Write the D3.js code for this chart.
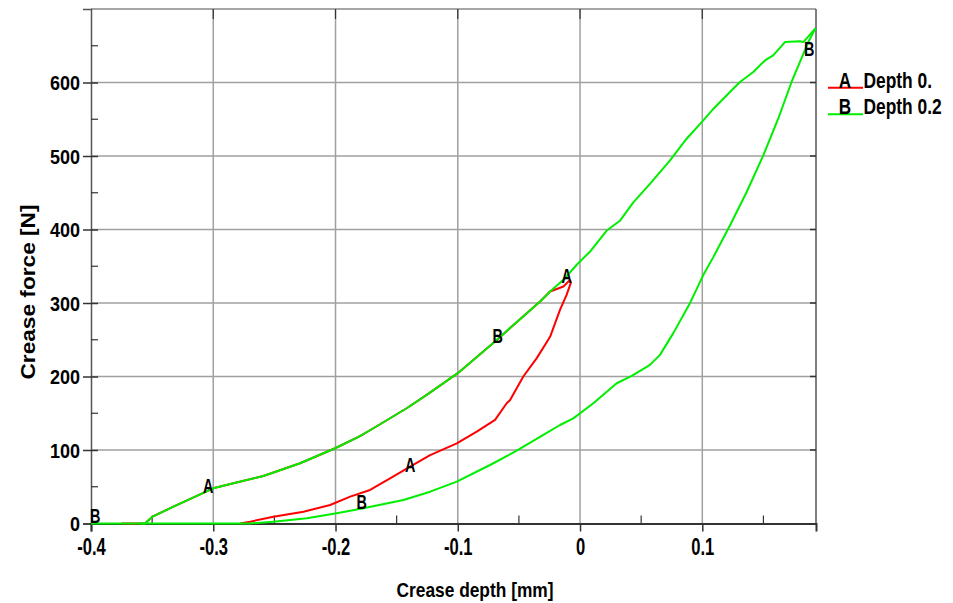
<!DOCTYPE html>
<html><head><meta charset="utf-8">
<script src="https://cdn.jsdelivr.net/npm/d3@7"></script>
<style>
body{margin:0;background:#fff}
svg{display:block}
text{font-family:"Liberation Sans",Arial,sans-serif;font-weight:bold;fill:#000}
</style>
</head><body>
<svg id="c" width="953" height="603"></svg>
<script>
// ---------- data ----------
const xTicks = [-0.4, -0.3, -0.2, -0.1, 0, 0.1];
const xTickLabels = ["-0.4", "-0.3", "-0.2", "-0.1", "0", "0.1"];
const xMinorTicks = [-0.35, -0.25, -0.15, -0.05, 0.05, 0.15];
const yTicks = [0, 100, 200, 300, 400, 500, 600];
const yTickLabels = ["0", "100", "200", "300", "400", "500", "600"];
const yMinorTicks = [50, 150, 250, 350, 450, 550, 650];

const seriesNames = ["Depth 0.", "Depth 0.2"];
const seriesLetters = ["A", "B"];
const seriesColors = ["#ff0000", "#00ee00"];

// Depth 0. (A) – loading then unloading
const depthA_load = [
  [-0.375, 0], [-0.356, 0], [-0.3497, 9.3], [-0.3326, 22.9], [-0.3, 47.9], [-0.2835, 54.7],
  [-0.259, 64.7], [-0.229, 82], [-0.2003, 102.4], [-0.18, 119], [-0.169, 129.6],
  [-0.1418, 156.8], [-0.1254, 175], [-0.1, 204.5], [-0.0681, 249.8], [-0.0327, 302],
  [-0.0245, 315.6], [-0.0136, 322.4], [-0.0082, 331.5]
];
const depthA_unload = [
  [-0.0082, 331.5], [-0.0076, 327], [-0.011, 311], [-0.0164, 290.7], [-0.0245, 254],
  [-0.0354, 225], [-0.0464, 200], [-0.0572, 168], [-0.06, 163.6], [-0.0695, 141],
  [-0.0845, 125], [-0.1008, 109], [-0.1226, 93], [-0.139, 77.4], [-0.1554, 61.5],
  [-0.1717, 45.6], [-0.188, 36.5], [-0.2044, 25.2], [-0.2262, 16], [-0.2508, 9.3],
  [-0.2698, 2.5], [-0.278, 0]
];
// Depth 0.2 (B) – loading then unloading
const depthB_load = [
  [-0.4, 0], [-0.356, 0], [-0.3497, 9.3], [-0.3326, 22.9], [-0.3, 47.9], [-0.2835, 54.7],
  [-0.259, 64.7], [-0.229, 82], [-0.2003, 102.4], [-0.18, 119], [-0.169, 129.6],
  [-0.1418, 156.8], [-0.1254, 175], [-0.1, 204.5], [-0.0681, 249.8], [-0.0327, 302],
  [-0.0245, 315.6], [-0.0136, 331.5], [-0.0027, 352], [0.0082, 370], [0.0218, 398.6],
  [0.0327, 412], [0.0436, 437], [0.0572, 462], [0.0736, 494], [0.0872, 523.5],
  [0.1008, 548.4], [0.109, 564], [0.1226, 587], [0.1308, 600.7], [0.1417, 614.3],
  [0.1513, 630], [0.158, 637], [0.1676, 655], [0.1799, 656], [0.1826, 655], [0.1927, 674]
];
const depthB_unload = [
  [0.1927, 674], [0.1867, 655], [0.1799, 628], [0.173, 600.7], [0.1621, 550.7],
  [0.1499, 500.8], [0.1363, 451], [0.1226, 405.4], [0.109, 362.4], [0.1008, 338],
  [0.0899, 299.8], [0.0763, 259], [0.0654, 229.4], [0.0572, 215.8], [0.0423, 200.8],
  [0.03, 190.8], [0.0109, 163.6], [-0.0055, 143], [-0.0164, 134], [-0.03, 120.5],
  [-0.0518, 99], [-0.0736, 79.6], [-0.1008, 57], [-0.1226, 43.3], [-0.1445, 32],
  [-0.1772, 20.7], [-0.199, 13.9], [-0.2235, 7], [-0.2508, 2.5], [-0.27, 0], [-0.36, 0]
];

// curve marker letters (data coordinates of letter baseline centre)
const markerLetters = ["B", "A", "A", "B", "B", "A", "B"];
const markerX = [-0.3966, -0.3042, -0.139, -0.1785, -0.0673, -0.0109, 0.1875];
const markerY = [0.7, 41.9, 70.5, 19.7, 245.6, 327.2, 635.6];

// ---------- layout ----------
const L = 91, R = 816, T = 9, B = 523.5;
const svg = d3.select("#c");
const x = d3.scaleLinear().domain([-0.4, 0.193]).range([L, R]);
const y = d3.scaleLinear().domain([0, 700]).range([B, T]);

function squeeze(sel, f) {
  sel.each(function () {
    const w = this.getComputedTextLength();
    this.setAttribute("textLength", w * f);
    this.setAttribute("lengthAdjust", "spacingAndGlyphs");
  });
}

// grid
svg.append("g").selectAll("line").data(xTicks.slice(1)).join("line")
  .attr("x1", d => x(d)).attr("x2", d => x(d)).attr("y1", T).attr("y2", B)
  .attr("stroke", "#a0a0a0").attr("stroke-width", 1.5);
svg.append("g").selectAll("line").data(yTicks.slice(1)).join("line")
  .attr("x1", L).attr("x2", R).attr("y1", d => y(d)).attr("y2", d => y(d))
  .attr("stroke", "#a0a0a0").attr("stroke-width", 1.5);

// frame
svg.append("line").attr("x1", L).attr("x2", R).attr("y1", T).attr("y2", T).attr("stroke", "#888").attr("stroke-width", 1.5);
svg.append("line").attr("x1", R).attr("x2", R).attr("y1", T).attr("y2", B).attr("stroke", "#555").attr("stroke-width", 1.5);

// axes using d3 axis generators
const yAxis = svg.append("g").attr("transform", `translate(${L},0)`)
  .call(d3.axisLeft(y).tickValues(yTicks).tickFormat((d, i) => yTickLabels[i]).tickSize(8).tickPadding(3));
yAxis.select(".domain").attr("stroke", "#555").attr("stroke-width", 1.5);
yAxis.selectAll(".tick line").attr("stroke", "#333").attr("stroke-width", 1.5).attr("x2", -8).attr("x1", 7);
yAxis.selectAll(".tick text").attr("font-size", 20).attr("x", -11).attr("dy", "0.36em")
  .style("font-family", '"Liberation Sans",Arial,sans-serif').style("font-weight", "bold");
squeeze(yAxis.selectAll(".tick text"), 0.9);

svg.append("g").selectAll("line").data(yMinorTicks).join("line")
  .attr("x1", L).attr("x2", L + 7).attr("y1", d => y(d)).attr("y2", d => y(d))
  .attr("stroke", "#333").attr("stroke-width", 1.2);
svg.append("g").selectAll("line").data(yTicks.slice(1)).join("line")
  .attr("x1", R - 6).attr("x2", R).attr("y1", d => y(d)).attr("y2", d => y(d))
  .attr("stroke", "#333").attr("stroke-width", 1.5);

const xAxis = svg.append("g").attr("transform", `translate(0,${B})`)
  .call(d3.axisBottom(x).tickValues(xTicks).tickFormat((d, i) => xTickLabels[i]).tickSize(8).tickPadding(6));
xAxis.select(".domain").attr("stroke", "#333").attr("stroke-width", 2);
xAxis.selectAll(".tick line").attr("stroke", "#333").attr("stroke-width", 1.5);
xAxis.selectAll(".tick text").attr("font-size", 23).attr("y", 31.5).attr("dy", 0)
  .style("font-family", '"Liberation Sans",Arial,sans-serif').style("font-weight", "bold");
squeeze(xAxis.selectAll(".tick text"), 0.72);

svg.append("g").selectAll("line").data(xMinorTicks).join("line")
  .attr("x1", d => x(d)).attr("x2", d => x(d)).attr("y1", B - 8).attr("y2", B)
  .attr("stroke", "#333").attr("stroke-width", 1.2);
svg.append("g").selectAll("line").data(xTicks.slice(1)).join("line")
  .attr("x1", d => x(d)).attr("x2", d => x(d)).attr("y1", T).attr("y2", T + 10)
  .attr("stroke", "#333").attr("stroke-width", 1.2);

// axis titles
const xt = svg.append("text").attr("x", 475).attr("y", 597).attr("text-anchor", "middle")
  .attr("font-size", 21).text("Crease depth [mm]");
xt.attr("textLength", 157).attr("lengthAdjust", "spacingAndGlyphs");
const yt = svg.append("text").attr("transform", "translate(35,292) rotate(-90)").attr("text-anchor", "middle")
  .attr("font-size", 21).text("Crease force [N]");
yt.attr("textLength", 175).attr("lengthAdjust", "spacingAndGlyphs");

// curves
const line = d3.line().x(d => x(d[0])).y(d => y(d[1]));
const curves = [
  [depthA_load, 0], [depthA_unload, 0], [depthB_load, 1], [depthB_unload, 1]
];
svg.append("g").selectAll("path").data(curves).join("path")
  .attr("d", d => line(d[0])).attr("fill", "none")
  .attr("stroke", d => seriesColors[d[1]]).attr("stroke-width", 2)
  .attr("stroke-linejoin", "round");

// curve markers
const mk = svg.append("g").selectAll("text").data(markerLetters).join("text")
  .attr("x", (d, i) => x(markerX[i])).attr("y", (d, i) => y(markerY[i]))
  .attr("text-anchor", "middle").attr("font-size", 20).text(d => d);
squeeze(mk, 0.72);

// legend (horizontal compression through transforms so the boxes stay narrow)
const lg = svg.append("g");
seriesNames.forEach((name, i) => {
  const by = 87.5 + i * 26.5;
  lg.append("line").attr("x1", 828).attr("x2", 863).attr("y1", by + 0.3).attr("y2", by + 0.3)
    .attr("stroke", seriesColors[i]).attr("stroke-width", 2);
  lg.append("text").attr("transform", `translate(845,${by}) scale(0.78,1)`)
    .attr("text-anchor", "middle").attr("font-size", 22).text(seriesLetters[i]);
  lg.append("text").attr("transform", `translate(863.5,${by}) scale(0.79,1)`)
    .attr("font-size", 22).text(name);
});
</script>
</body></html>
